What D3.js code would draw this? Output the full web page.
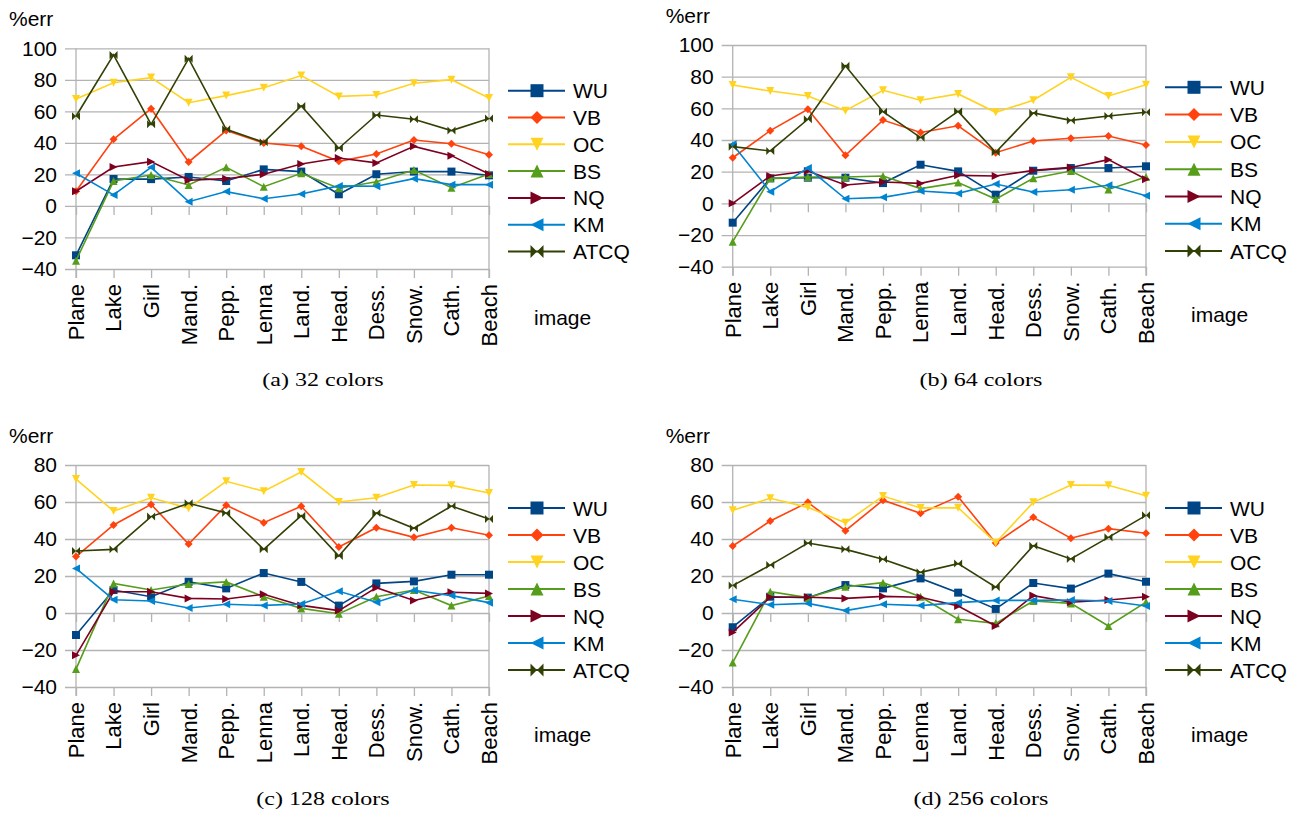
<!DOCTYPE html>
<html>
<head>
<meta charset="utf-8">
<script src="https://cdn.jsdelivr.net/npm/d3@7"></script>
<style>
  body { margin: 0; background: #fff; }
  text { font-family: "Liberation Sans", Arial, sans-serif; fill: #000; }
  .caption { font-family: "Liberation Serif", "Times New Roman", serif; }
</style>
</head>
<body>
<script>
// categories and series
var images = ["Plane", "Lake", "Girl", "Mand.", "Pepp.", "Lenna", "Land.", "Head.", "Dess.", "Snow.", "Cath.", "Beach"];
var methods = ["WU", "VB", "OC", "BS", "NQ", "KM", "ATCQ"];
var colors = ["#004586", "#ff420e", "#ffd320", "#579d1c", "#7e0021", "#0084d1", "#314004"];
var shapes = ["square", "diamond", "down", "up", "right", "left", "bowtie"];

// tick labels
var ticksHigh = [-40, -20, 0, 20, 40, 60, 80, 100];
var ticksLow = [-40, -20, 0, 20, 40, 60, 80];

// %err per method (rows follow methods order)
var err32 = [
  [-31.3, 17.1, 17.0, 18.4, 15.8, 23.2, 21.8, 7.4, 20.1, 21.8, 21.8, 19.4],
  [9.3, 42.3, 61.7, 27.9, 47.8, 39.9, 37.8, 28.3, 33.0, 41.8, 39.5, 32.5],
  [67.9, 78.2, 81.4, 65.5, 70.0, 75.0, 82.7, 69.5, 70.4, 77.8, 80.1, 68.5],
  [-34.7, 15.8, 19.6, 13.3, 24.5, 12.2, 20.7, 11.2, 15.4, 22.8, 11.6, 20.3],
  [9.3, 24.7, 28.1, 16.3, 17.3, 20.1, 26.6, 30.4, 27.3, 37.8, 31.9, 20.3],
  [20.7, 7.0, 24.5, 2.7, 9.1, 4.6, 7.6, 12.7, 12.5, 17.3, 13.5, 13.5],
  [56.9, 95.8, 51.8, 93.4, 48.6, 40.4, 63.4, 36.6, 57.7, 55.0, 47.8, 55.4]
];
var err64 = [
  [-12.2, 15.8, 16.2, 16.2, 12.8, 24.4, 20.2, 5.5, 20.6, 22.3, 22.3, 23.4],
  [28.8, 45.9, 59.4, 30.3, 52.6, 44.8, 49.0, 32.0, 39.4, 41.1, 42.5, 36.8],
  [74.7, 70.9, 67.8, 58.5, 71.4, 65.1, 69.1, 57.5, 65.1, 79.6, 67.8, 74.9],
  [-24.2, 15.8, 16.6, 16.6, 17.3, 9.3, 13.1, 2.7, 15.8, 20.4, 8.8, 16.6],
  [0.0, 17.3, 20.4, 11.6, 13.5, 12.6, 17.7, 17.3, 20.8, 22.7, 27.6, 15.2],
  [37.3, 7.4, 22.3, 2.9, 3.8, 7.8, 6.3, 12.2, 7.2, 8.6, 11.4, 4.8],
  [35.8, 33.1, 53.1, 86.9, 57.9, 41.5, 58.1, 32.2, 57.1, 52.4, 55.2, 57.5]
];
var err128 = [
  [-11.9, 12.4, 8.8, 16.9, 13.3, 21.6, 16.8, 4.0, 16.0, 17.1, 20.7, 20.7],
  [30.5, 47.6, 58.7, 37.3, 58.2, 48.8, 57.7, 35.7, 46.1, 40.9, 46.1, 42.0],
  [72.4, 55.1, 62.3, 56.6, 71.2, 65.8, 76.2, 60.0, 62.3, 69.2, 69.0, 64.9],
  [-30.3, 16.0, 12.4, 15.7, 16.8, 8.8, 2.5, -0.4, 8.8, 12.4, 4.0, 9.2],
  [-22.9, 11.5, 11.5, 7.9, 7.6, 10.1, 4.1, 1.3, 13.7, 6.8, 11.2, 10.6],
  [24.1, 7.2, 6.5, 2.7, 4.7, 4.1, 4.9, 11.7, 5.8, 12.3, 9.4, 5.6],
  [33.5, 34.4, 52.1, 59.3, 54.1, 34.4, 52.6, 30.8, 54.1, 45.8, 57.8, 50.8]
];
var err256 = [
  [-7.7, 8.8, 8.3, 15.1, 13.3, 18.7, 11.0, 2.2, 16.2, 13.2, 21.3, 16.9],
  [36.2, 49.7, 59.8, 44.5, 61.0, 53.9, 62.9, 37.8, 51.7, 40.4, 45.6, 43.1],
  [55.5, 62.0, 57.1, 48.8, 63.2, 56.8, 56.9, 38.0, 59.8, 69.2, 69.0, 63.4],
  [-26.8, 11.5, 8.3, 14.2, 16.4, 8.8, -3.4, -5.6, 6.5, 5.2, -7.0, 5.9],
  [-10.5, 8.5, 8.5, 7.9, 9.0, 8.5, 3.8, -7.0, 9.4, 5.8, 7.0, 8.8],
  [7.4, 4.5, 5.2, 1.3, 4.7, 4.0, 5.6, 6.8, 6.8, 7.0, 6.5, 3.8],
  [14.8, 25.9, 37.8, 34.4, 29.0, 22.0, 26.7, 13.9, 36.4, 29.2, 40.9, 52.8]
];

// marker shapes (LibreOffice style, filling a square box of half-size s)
function marker(shape, s) {
  switch (shape) {
    case "square": return "M" + -s + "," + -s + "H" + s + "V" + s + "H" + -s + "Z";
    case "diamond": return "M0," + -s + "L" + s + ",0L0," + s + "L" + -s + ",0Z";
    case "down": return "M" + -s + "," + -s + "L" + s + "," + -s + "L0," + s + "Z";
    case "up": return "M" + -s + "," + s + "L" + s + "," + s + "L0," + -s + "Z";
    case "right": return "M" + -s + "," + -s + "L" + s + ",0L" + -s + "," + s + "Z";
    case "left": return "M" + s + "," + -s + "L" + -s + ",0L" + s + "," + s + "Z";
    default: return "M" + -s + "," + -s + "L" + s + "," + s + "L" + s + "," + -s + "L" + -s + "," + s + "Z";
  }
}

var svg = d3.select("body").append("svg")
    .attr("width", 1300)
    .attr("height", 814);

function drawPanel(p) {
  var g = svg.append("g");

  var x = d3.scalePoint().domain(images).range([p.left, p.right]);
  var y = d3.scaleLinear().domain([-40, p.max]).range([p.bottom, p.top]);

  // horizontal gridlines + y tick labels
  var yAxis = g.append("g")
      .attr("transform", "translate(" + (p.left - 11) + ",0)")
      .call(d3.axisLeft(y).tickValues(p.ticks).tickSize(-(p.right - p.left + 11)).tickPadding(8));
  yAxis.select(".domain").remove();
  yAxis.selectAll("line").attr("stroke", "#b3b3b3").attr("stroke-width", 1.3);
  yAxis.selectAll("text").style("font-size", "21px").attr("fill", "#000").style("font-family", "Liberation Sans, Arial, sans-serif");

  // category ticks at 0 and at bottom
  [0, -40].forEach(function(v) {
    var xa = g.append("g")
        .attr("transform", "translate(0," + y(v) + ")")
        .call(d3.axisBottom(x).tickSize(9).tickFormat(""));
    xa.select(".domain").remove();
    xa.selectAll("line").attr("stroke", "#b3b3b3").attr("stroke-width", 1.3);
  });

  // left axis and right border
  [p.left, p.right].forEach(function(xx) {
    g.append("line")
        .attr("x1", xx).attr("x2", xx)
        .attr("y1", y(p.max)).attr("y2", y(-40) + 9)
        .attr("stroke", "#b3b3b3").attr("stroke-width", 1.3);
  });

  // rotated category labels
  g.selectAll(".xlab")
      .data(images)
    .enter().append("text")
      .attr("class", "xlab")
      .attr("transform", d => "translate(" + x(d) + "," + (y(-40) + 15) + ") rotate(-90)")
      .attr("text-anchor", "end")
      .attr("dy", "0.36em")
      .style("font-size", "22px")
      .text(d => d);

  // series
  var line = d3.line()
      .x((d, i) => x(images[i]))
      .y(d => y(d));

  p.data.forEach(function(vals, k) {
    g.append("path")
        .datum(vals)
        .attr("d", line)
        .attr("fill", "none")
        .attr("stroke", colors[k])
        .attr("stroke-width", 1.6);
    g.selectAll(".m" + k)
        .data(vals)
      .enter().append("path")
        .attr("class", "m" + k)
        .attr("transform", (d, i) => "translate(" + x(images[i]) + "," + y(d) + ")")
        .attr("d", marker(shapes[k], 4))
        .attr("fill", colors[k]);
  });

  // legend
  var leg = g.selectAll(".leg")
      .data(methods)
    .enter().append("g")
      .attr("class", "leg")
      .attr("transform", (d, i) => "translate(" + p.legX + "," + (p.legY + i * p.legStep) + ")");
  leg.append("line")
      .attr("x1", 0).attr("x2", 57)
      .attr("stroke", (d, i) => colors[i])
      .attr("stroke-width", 2);
  leg.append("path")
      .attr("transform", "translate(29,0)")
      .attr("d", (d, i) => marker(shapes[i], 6.5))
      .attr("fill", (d, i) => colors[i]);
  leg.append("text")
      .attr("x", 65)
      .attr("dy", "0.36em")
      .style("font-size", "21px")
      .text(d => d);

  // axis titles
  g.append("text")
      .attr("x", p.left - 67)
      .attr("y", p.top - 22)
      .style("font-size", "21px")
      .text("%err");
  g.append("text")
      .attr("x", p.legX + 26)
      .attr("y", p.imgY)
      .style("font-size", "21px")
      .text("image");

  // caption
  g.append("text")
      .attr("class", "caption")
      .attr("transform", "translate(" + p.capX + "," + p.capY + ") scale(1.3,1)")
      .attr("text-anchor", "middle")
      .style("font-size", "18.5px")
      .text(p.caption);
}

drawPanel({data: err32, ticks: ticksHigh, max: 100, left: 76, right: 489, top: 48.3, bottom: 269,
  legX: 508, legY: 90.7, legStep: 26.8, imgY: 325, capX: 323, capY: 386, caption: "(a) 32 colors"});
drawPanel({data: err64, ticks: ticksHigh, max: 100, left: 732.7, right: 1146, top: 45, bottom: 266.7,
  legX: 1165, legY: 87.3, legStep: 27.3, imgY: 322, capX: 981, capY: 386, caption: "(b) 64 colors"});
drawPanel({data: err128, ticks: ticksLow, max: 80, left: 76, right: 489, top: 465, bottom: 687,
  legX: 508, legY: 508, legStep: 27, imgY: 742, capX: 323, capY: 805, caption: "(c) 128 colors"});
drawPanel({data: err256, ticks: ticksLow, max: 80, left: 732.7, right: 1146, top: 465, bottom: 687,
  legX: 1165, legY: 508, legStep: 27, imgY: 742, capX: 981, capY: 805, caption: "(d) 256 colors"});
</script>
</body>
</html>
